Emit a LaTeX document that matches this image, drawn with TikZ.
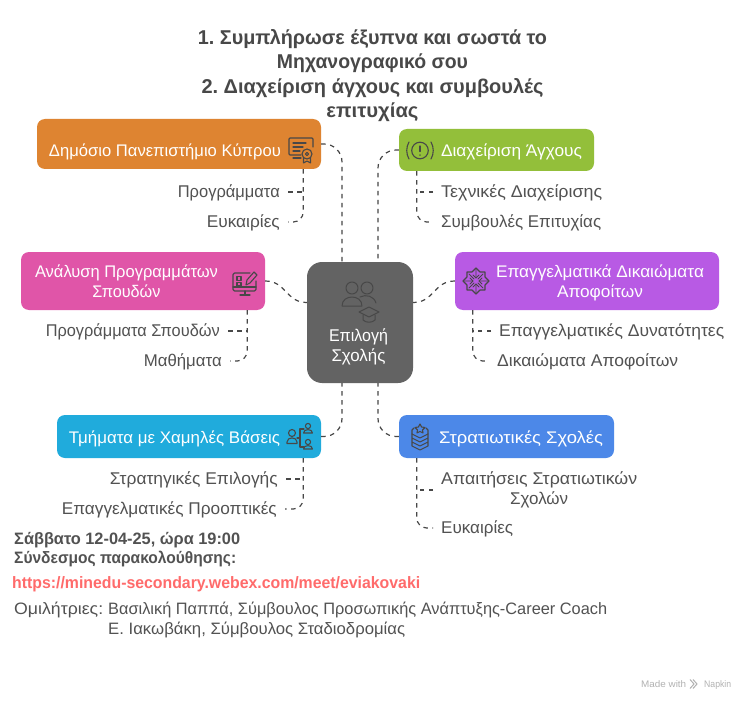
\documentclass[tikz,border=0pt]{standalone}
\usepackage{graphicx}
\usepackage{fontspec}
\setmainfont[Ligatures=NoCommon]{Liberation Sans}
\frenchspacing
\usetikzlibrary{calc}
\definecolor{txt}{HTML}{525252}
\definecolor{dark}{HTML}{484848}
\definecolor{cOrange}{HTML}{DE8431}
\definecolor{cGreen}{HTML}{93BF3A}
\definecolor{cPink}{HTML}{E055A8}
\definecolor{cPurple}{HTML}{B85AE4}
\definecolor{cCyan}{HTML}{20ABDC}
\definecolor{cBlue}{HTML}{4C88E8}
\definecolor{cCentre}{HTML}{636363}
\definecolor{cRed}{HTML}{FF6B6B}
% text fitted to a width, height unchanged
\newcommand{\fitx}[2]{\resizebox{#1pt}{\height}{#2}}
% box label: horizontal offset, vertical drop, content
\newcommand{\boxlabel}[3]{\hspace*{#1pt}\raisebox{-#2pt}[\height][\depth]{#3}}
\tikzset{
  box/.style={rectangle,rounded corners=8pt,inner sep=0pt,align=center,text=white,font=\fontsize{16.8}{20}\selectfont},
  leaf/.style={inner xsep=8pt,inner ysep=0pt,text=txt,text height=13pt,text depth=2pt,font=\fontsize{17}{20}\selectfont},
  conn/.style={draw=dark,line width=1.2pt,dash pattern=on 4.5pt off 4.5pt},
  bigconn/.style={conn,rounded corners=18pt},
  subconn/.style={conn,rounded corners=10pt},
  icon/.style={draw=dark,line width=1.1pt,line cap=round,line join=round},
  plain/.style={anchor=west,inner sep=0pt,text=txt,text height=13pt,text depth=2pt,font=\fontsize{16.5}{20}\selectfont},
  strong/.style={plain,font=\bfseries\fontsize{16.5}{20}\selectfont},
  mark text/.style={anchor=west,inner sep=0pt,text=black!30,text height=8pt,text depth=2pt,font=\fontsize{9.5}{11}\selectfont},
}
\begin{document}
\begin{tikzpicture}[x=1pt,y=-1pt]
\useasboundingbox[fill=white] (0,0) rectangle (750,706);
% title
\node[align=center,text=dark,inner sep=0pt,font=\bfseries\fontsize{20}{24.4}\selectfont] (title) at (372.5,75.5) {\fitx{349}{1. Συμπλήρωσε έξυπνα και σωστά το}\\\fitx{191}{Μηχανογραφικό σου}\\\fitx{342}{2. Διαχείριση άγχους και συμβουλές}\\\fitx{92}{επιτυχίας}};
% boxes
\node[box,fill=cOrange,minimum width=284pt,minimum height=50pt] (orange) at (179,144) {\boxlabel{-28}{8}{\fitx{232}{Δημόσιο Πανεπιστήμιο Κύπρου}}};
\node[box,fill=cGreen,minimum width=195pt,minimum height=42pt] (green) at (496.5,150) {\boxlabel{30}{2}{\fitx{141}{Διαχείριση Άγχους}}};
\node[box,fill=cPink,minimum width=244pt,minimum height=58pt] (pink) at (143,281) {\boxlabel{-33}{2}{\begin{tabular}{@{}c@{}}\fitx{183}{Ανάλυση Προγραμμάτων}\\\fitx{68}{Σπουδών}\end{tabular}}};
\node[box,fill=cPurple,minimum width=264pt,minimum height=58pt] (purple) at (587,281) {\boxlabel{26}{2}{\begin{tabular}{@{}c@{}}\fitx{208}{Επαγγελματικά Δικαιώματα}\\\fitx{86}{Αποφοίτων}\end{tabular}}};
\node[box,fill=cCyan,minimum width=264pt,minimum height=43pt] (cyan) at (189,436.5) {\boxlabel{-29}{2}{\fitx{211}{Τμήματα με Χαμηλές Βάσεις}}};
\node[box,fill=cBlue,minimum width=215pt,minimum height=43pt] (blue) at (506.5,436.5) {\boxlabel{29}{2}{\fitx{164}{Στρατιωτικές Σχολές}}};
\node[box,fill=cCentre,rounded corners=15pt,minimum width=106pt,minimum height=121pt] (centre) at (360,322.5) {};
\node[text=white,align=center,inner sep=0pt,font=\fontsize{17}{20}\selectfont] (centrelabel) at (358.5,346.5) {\fitx{59}{Επιλογή}\\\fitx{54}{Σχολής}};
% leaves
\node[leaf,anchor=east] (o1) at (288,192) {\fitx{102}{Προγράμματα}};
\node[leaf,anchor=east] (o2) at (288,222) {\fitx{73}{Ευκαιρίες}};
\node[leaf,anchor=west] (g1) at (433,192) {\fitx{161}{Τεχνικές Διαχείρισης}};
\node[leaf,anchor=west] (g2) at (433,222) {\fitx{160}{Συμβουλές Επιτυχίας}};
\node[leaf,anchor=east] (p1) at (228,331) {\fitx{174}{Προγράμματα Σπουδών}};
\node[leaf,anchor=east] (p2) at (230,361) {\fitx{78}{Μαθήματα}};
\node[leaf,anchor=west] (u1) at (491,331) {\fitx{225}{Επαγγελματικές Δυνατότητες}};
\node[leaf,anchor=west] (u2) at (489,361) {\fitx{181}{Δικαιώματα Αποφοίτων}};
\node[leaf,anchor=east] (c1) at (286,479) {\fitx{168}{Στρατηγικές Επιλογής}};
\node[leaf,anchor=east] (c2) at (285,509) {\fitx{215}{Επαγγελματικές Προοπτικές}};
\node[leaf,anchor=west,align=center,text height=,text depth=] (b1) at (433,490) {\fitx{196}{Απαιτήσεις Στρατιωτικών}\\\fitx{58}{Σχολών}};
\node[leaf,anchor=west] (b2) at (433,528) {\fitx{72}{Ευκαιρίες}};
% connector ends on the centre box
\coordinate (cTL) at ($(centre.north)+(-18,0)$);
\coordinate (cTR) at ($(centre.north)+(18,0)$);
\coordinate (cBL) at ($(centre.south)+(-18,0)$);
\coordinate (cBR) at ($(centre.south)+(18,0)$);
\coordinate (cL) at ($(centre.west)+(0,-20)$);
\coordinate (cR) at ($(centre.east)+(0,-20)$);
% stems
\coordinate (sO) at ($(orange.south east)+(-18,0)$);
\coordinate (sG) at ($(green.south west)+(18,0)$);
\coordinate (sP) at ($(pink.south east)+(-18,0)$);
\coordinate (sU) at ($(purple.south west)+(18,0)$);
\coordinate (sC) at ($(cyan.south east)+(-18,0)$);
\coordinate (sB) at ($(blue.south west)+(18,0)$);
% main connectors
\draw[bigconn] (orange.east) -| (cTL);
\draw[bigconn] (green.west) -| (cTR);
\draw[bigconn] (cyan.east) -| (cBL);
\draw[bigconn] (blue.west) -| (cBR);
\draw[conn] (pink.east) .. controls ($(pink.east)+(21,0)$) and ($(cL)+(-21,0)$) .. (cL);
\draw[conn] (purple.west) .. controls ($(purple.west)+(-21,0)$) and ($(cR)+(21,0)$) .. (cR);
% sub connectors
\foreach \s/\a/\b in {sO/o1/o2,sP/p1/p2,sC/c1/c2}{
  \draw[conn] (\a.east) -- (\a.east -| \s);
  \draw[subconn] (\s) |- (\b.east);
}
\foreach \s/\a/\b in {sG/g1/g2,sU/u1/u2,sB/b1/b2}{
  \draw[conn] (\a.west) -- (\a.west -| \s);
  \draw[subconn] (\s) |- (\b.west);
}
% certificate icon
\draw[icon,rounded corners=1pt] (301,155) -- (289,155) -- (289,138) -- (313,138) -- (313,147);
\draw[icon] (293,143) -- (306,143) (293,147) -- (303,147) (293,151) -- (300,151) (293,158) -- (301,158);
\draw[icon] (307,154) circle (5) (307,154) circle (1.6) (303.5,158.5) -- (303.5,163) -- (307,161) -- (310.5,163) -- (310.5,158.5);
% warning icon
\draw[icon] (420,150.5) circle (8.3);
\draw[icon] (420,146) -- (420,151.5) (420,155) -- (420,155.2);
\draw[icon] (409,142) .. controls (406,147) and (406,154) .. (409,159);
\draw[icon] (431,142) .. controls (434,147) and (434,154) .. (431,159);
% monitor icon
\draw[icon,rounded corners=1.5pt] (250,273) -- (233,273) -- (233,291) -- (256,291) -- (256,281);
\draw[icon] (233,287) -- (256,287) (240,295) -- (250,295) (245,291) -- (245,295);
\draw[icon] (237,276.5) rectangle (241,280.5) (237,282.5) rectangle (241,286);
\draw[icon] (246,285) -- (247,280) -- (254,272) -- (257,275) -- (250,283) -- cycle;
% flower icon
\begin{scope}[shift={(476,281)}]
\draw[icon] (0,-13) -- (4,-9) -- (9,-9) -- (9,-4) -- (13,0) -- (9,4) -- (9,9) -- (4,9) -- (0,13) -- (-4,9) -- (-9,9) -- (-9,4) -- (-13,0) -- (-9,-4) -- (-9,-9) -- (-4,-9) -- cycle;
\draw[icon,line width=0.9pt] (-13,0) -- (-3,0) (3,0) -- (13,0) (0,-13) -- (0,-3) (0,3) -- (0,13) (-7,-7) -- (-2,-2) (2,2) -- (7,7) (-7,7) -- (-2,2) (2,-2) -- (7,-7);
\draw[icon,line width=0.9pt] (-3,-6) -- (0,-3) -- (3,-6) (-3,6) -- (0,3) -- (3,6) (-6,-3) -- (-3,0) -- (-6,3) (6,-3) -- (3,0) -- (6,3);
\end{scope}
% people icon
\draw[icon] (292,433) circle (3.5);
\draw[icon] (287,442) .. controls (287,436.5) and (297,436.5) .. (297,442) -- (297,443.5) -- (287,443.5) -- cycle;
\draw[icon] (304,429) -- (300,429) -- (300,447) -- (304,447) (297,438) -- (300,438);
\draw[icon] (308,426) circle (2.6) (303.5,433) .. controls (303.5,428.5) and (312.5,428.5) .. (312.5,433) -- cycle;
\draw[icon] (308,442) circle (2.6) (303.5,449) .. controls (303.5,444.5) and (312.5,444.5) .. (312.5,449) -- cycle;
% chevrons icon
\begin{scope}[shift={(3,0)}]
\draw[icon] (417,424) -- (418.6,427) -- (422,427.5) -- (419.5,430) -- (420,433) -- (417,431.5) -- (414,433) -- (414.5,430) -- (412,427.5) -- (415.4,427) -- cycle;
\draw[icon] (411,428) -- (409,430) -- (409,434) -- (417,438) -- (425,434) -- (425,430) -- (423,428);
\draw[icon] (409,438) -- (417,442) -- (425,438) (409,442) -- (417,446) -- (425,442) (409,434) -- (409,446) -- (417,450) -- (425,446) -- (425,434);
\end{scope}
% graduates icon
\draw[icon,line width=1pt] (352,288) circle (6) (367,288) circle (6);
\draw[icon,line width=1pt] (342,306) .. controls (342,294) and (362,294) .. (362,306) -- cycle;
\draw[icon,line width=1pt] (360,297) .. controls (366,294) and (374,296) .. (376,303);
\draw[icon,line width=1pt] (359,312) -- (369,307) -- (379,312) -- (369,317) -- cycle;
\draw[icon,line width=1pt] (363,315) -- (363,320) .. controls (366,323) and (372,323) .. (375,320) -- (375,315);
% bottom text
\node[strong] (date) at (14,539) {\fitx{226}{Σάββατο 12-04-25, ώρα 19:00}};
\node[strong] (link) at (14,558) {\fitx{222}{Σύνδεσμος παρακολούθησης:}};
\node[strong,text=cRed] (url) at (12,583) {\fitx{408}{https://minedu-secondary.webex.com/meet/eviakovaki}};
\node[plain] (spk) at (14,609) {\fitx{89}{Ομιλήτριες:}};
\node[plain] (spk1) at (108,609) {\fitx{499}{Βασιλική Παππά, Σύμβουλος Προσωπικής Ανάπτυξης-Career Coach}};
\node[plain] (spk2) at (108,629) {\fitx{297}{Ε. Ιακωβάκη, Σύμβουλος Σταδιοδρομίας}};
% watermark
\node[mark text] (made) at (641,684) {\fitx{45}{Made with}};
\draw[black!30,line width=1pt] (690,679.5) -- (694,684) -- (690,688.5) (693,679.5) -- (697,684) -- (693,688.5);
\node[mark text] (napkin) at (704,684) {\fitx{27}{Napkin}};
\end{tikzpicture}
\end{document}
